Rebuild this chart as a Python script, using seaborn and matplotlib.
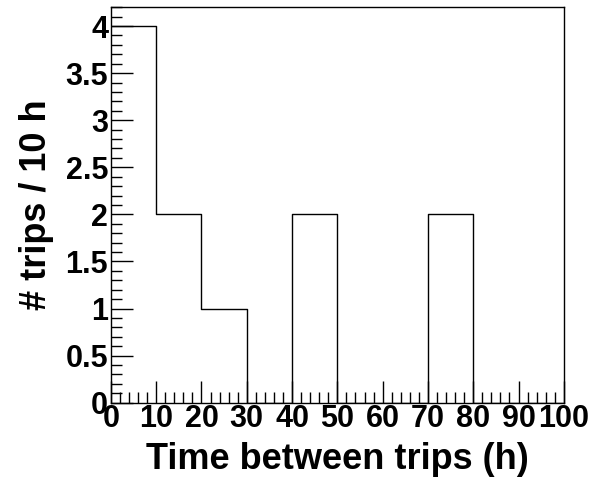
import numpy as np
import seaborn as sns
import matplotlib
matplotlib.use("Agg")
import matplotlib.pyplot as plt
from matplotlib.ticker import MultipleLocator, FormatStrFormatter

sns.set_theme(style="white")
plt.rcParams["font.family"] = ["Liberation Sans", "DejaVu Sans"]
plt.rcParams["font.weight"] = "bold"
plt.rcParams["text.color"] = "black"
plt.rcParams["axes.labelcolor"] = "black"
plt.rcParams["xtick.color"] = "black"
plt.rcParams["ytick.color"] = "black"

# Histogram: time between trips, 10 h bins
bin_edges = [0, 10, 20, 30, 40, 50, 60, 70, 80, 90, 100]
bin_centers = [5, 15, 25, 35, 45, 55, 65, 75, 85, 95]
trip_counts = [4, 2, 1, 0, 2, 0, 0, 2, 0, 0]

fig = plt.figure(figsize=(5.96, 4.8), dpi=100)
ax = fig.add_axes([0.186, 0.161, 0.760, 0.824])

sns.histplot(x=bin_centers, weights=trip_counts, bins=bin_edges, element="step",
             fill=False, color="black", linewidth=1.0, ax=ax)

ax.set_xlim(0, 100)
ax.set_ylim(0, 4.2)

ax.xaxis.set_major_locator(MultipleLocator(10))
ax.xaxis.set_minor_locator(MultipleLocator(2))
ax.yaxis.set_major_locator(MultipleLocator(0.5))
ax.yaxis.set_minor_locator(MultipleLocator(0.1))
ax.yaxis.set_major_formatter(FormatStrFormatter("%g"))

ax.tick_params(axis="both", which="major", direction="in", length=16, width=1,
               labelsize=22, labelcolor="black", color="black", top=False,
               right=False, bottom=True, left=True)
ax.tick_params(axis="both", which="minor", direction="in", length=8, width=1,
               color="black", top=False, right=False, bottom=True, left=True)
ax.tick_params(axis="x", which="major", pad=1)
ax.tick_params(axis="y", which="major", pad=2)
for lbl in ax.get_xticklabels() + ax.get_yticklabels():
    lbl.set_fontweight("bold")

for side in ["left", "right", "top", "bottom"]:
    ax.spines[side].set_visible(True)
    ax.spines[side].set_color("black")
    ax.spines[side].set_linewidth(1.0)

ax.set_xlabel("Time between trips (h)", fontsize=26, fontweight="bold",
              color="black", labelpad=6)
ax.set_ylabel("# trips / 10 h", fontsize=26, fontweight="bold",
              color="black", labelpad=8)
ax.grid(False)

fig.savefig("out.png", dpi=100)
